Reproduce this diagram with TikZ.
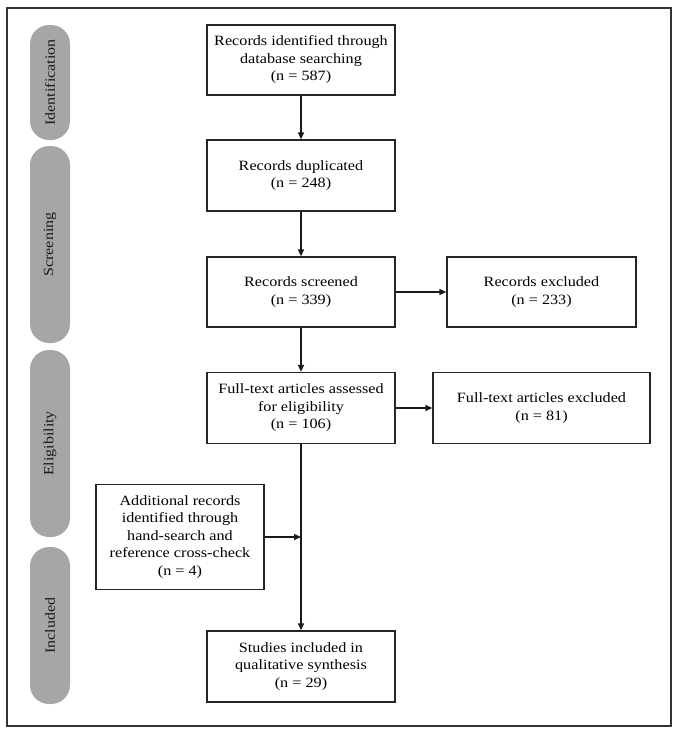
\documentclass[tikz,border=0pt]{standalone}
\usepackage{fontspec}
\setmainfont{Liberation Serif}[FakeStretch=1.14]
\usetikzlibrary{arrows.meta}
\begin{document}
\begin{tikzpicture}[x=1pt,y=-1pt,
  box/.style={draw=black!85,line width=1.3pt,fill=white,align=center,inner sep=2pt,
    font=\fontsize{14.2}{17.5}\selectfont,text=black},
  pill/.style={fill=black!35,rounded corners=19pt,draw=none,minimum height=40pt,
    font=\fontsize{14}{15}\selectfont,text=black!90,rotate=90},
  arr/.style={line width=1.4pt,draw=black!90,-{Triangle[length=7pt,width=6pt]}}]
\useasboundingbox (0,0) rectangle (681,731);
\fill[white] (0,0) rectangle (681,731);
\draw[line width=1.5pt,black!80] (7,8) rectangle (671,726);
% phase pills
\node[pill,minimum width=115pt] (pid) at (50,82.5) {Identification};
\node[pill,minimum width=197pt] (psc) at (50,244.5) {Screening};
\node[pill,minimum width=187pt] (pel) at (50,443.5) {Eligibility};
\node[pill,minimum width=157pt] (pin) at (50,625.5) {Included};
% boxes
\node[box,minimum width=188pt,minimum height=70pt] (b1) at (301,60) {Records identified through\\database searching\\(n = 587)};
\node[box,minimum width=188pt,minimum height=71pt] (b2) at (301,175.5) {Records duplicated\\(n = 248)};
\node[box,minimum width=188pt,minimum height=70pt] (b3) at (301,292) {Records screened\\(n = 339)};
\node[box,minimum width=188pt,minimum height=71pt] (b4) at (301,408) {Full-text articles assessed\\for eligibility\\(n = 106)};
\node[box,minimum width=189pt,minimum height=70pt] (e1) at (541.5,292) {Records excluded\\(n = 233)};
\node[box,minimum width=217pt,minimum height=71pt] (e2) at (541.5,408) {Full-text articles excluded\\(n = 81)};
\node[box,minimum width=168pt,minimum height=105pt] (ad) at (180,537) {Additional records\\identified through\\hand-search and\\reference cross-check\\(n = 4)};
\node[box,minimum width=188pt,minimum height=71pt] (st) at (301,666.5) {Studies included in\\qualitative synthesis\\(n = 29)};
\coordinate (j) at (301,537);
% connectors
\draw[arr] (b1) -- (b2);
\draw[arr] (b2) -- (b3);
\draw[arr] (b3) -- (b4);
\draw[arr] (b3) -- (e1);
\draw[arr] (b4) -- (e2);
\draw[arr] (b4) -- (st);
\draw[arr] (ad.east) -- (j);
\end{tikzpicture}
\end{document}
